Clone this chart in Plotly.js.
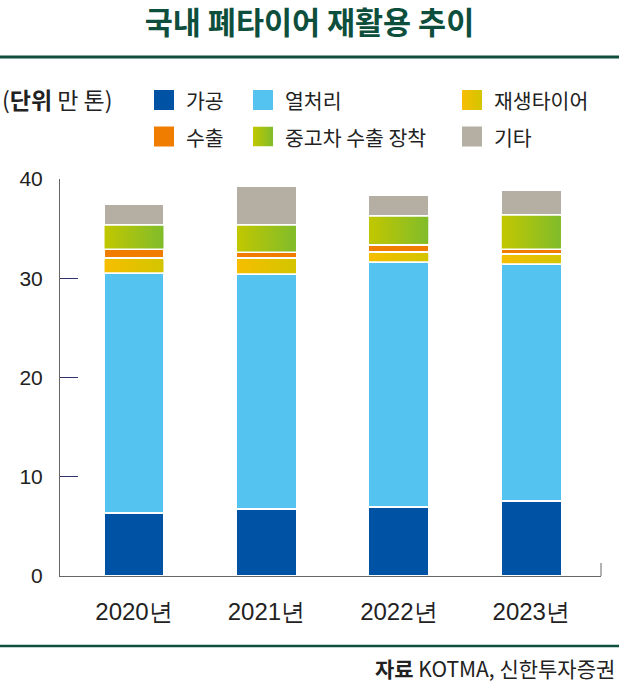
<!DOCTYPE html>
<html><head><meta charset="utf-8">
<script src="https://cdn.plot.ly/plotly-3.0.1.min.js"></script>
<style>html,body{margin:0;padding:0;background:#fff;}#chart{width:619px;height:682px;}</style>
</head><body><div id="chart"></div>
<script>
const years = ['2020년','2021년','2022년','2023년'];
const processing = [6.3, 6.8, 7.0, 7.6];      // 가공
const thermal = [24.2, 23.6, 24.6, 23.8];      // 열처리
const retread = [1.5, 1.6, 1.0, 1.0];          // 재생타이어
const exportT = [0.9, 0.6, 0.8, 0.5];          // 수출
const usedCar = [2.5, 2.8, 2.9, 3.5];          // 중고차 수출 장착
const others = [2.1, 3.9, 2.1, 2.5];           // 기타
const seriesNames = ['가공','열처리','재생타이어','수출','중고차 수출 장착','기타'];
const seriesData = [processing, thermal, retread, exportT, usedCar, others];
const colors = ['#0052a4','#55c3f0','#e6c200','#f07c00','#a6c31a','#b5aea2'];
const gradients = {2:['#f6be00','#d3c500'], 4:['#c2c700','#80bc2b']};

const W=619, H=682, L=60, R=601, T=179, B=576;
const px = x => (x-L)/(R-L);
const py = y => (B-y)/(B-T);
const FONT = '"Noto Sans CJK KR", "Noto Sans", sans-serif';
const xIdx = years.map((_,i)=>i);
const BW = 0.46;
const XR = [-0.559, 3.527], YR = [0, 40];
const dxPix = (XR[1]-XR[0])/(R-L), dyPix = (YR[1]-YR[0])/(B-T);

const traces = seriesData.map((d,i)=>({
  type:'bar', x:xIdx, y:d, name:seriesNames[i], width:BW,
  marker:{color:colors[i], line:{color:'#ffffff', width:2}},
  hoverinfo:'y+name', showlegend:false
}));

// gradient overlays for the two gradient-filled series, computed from the stacked data
Object.keys(gradients).forEach(k=>{
  const si = +k;
  xIdx.forEach(j=>{
    let base = 0;
    for (let s=0; s<si; s++) base += seriesData[s][j];
    const top = base + seriesData[si][j];
    const x0 = j - BW/2 + dxPix, x1 = j + BW/2 - dxPix;
    const y0 = base + dyPix, y1 = top - dyPix;
    traces.push({type:'scatter', mode:'lines', x:[x0,x1,x1,x0,x0], y:[y0,y0,y1,y1,y0],
      fill:'toself', line:{width:0, color:'rgba(0,0,0,0)'},
      fillgradient:{type:'horizontal', colorscale:[[0,gradients[k][0]],[1,gradients[k][1]]]},
      hoverinfo:'skip', showlegend:false});
  });
});

const shapes = [
  {type:'line', xref:'paper', yref:'paper', x0:px(0), x1:px(W), y0:py(57), y1:py(57), line:{color:'#0d4f3c', width:3}},
  {type:'line', xref:'paper', yref:'paper', x0:px(0), x1:px(W), y0:py(646), y1:py(646), line:{color:'#0d4f3c', width:2.5}},
  {type:'line', xref:'paper', yref:'paper', x0:1, x1:1, y0:0, y1:py(563), line:{color:'#666', width:1}}
];
const annotations = [];
const images = [];
const legendPos = [[154,100],[253,100],[462,100],[154,136.5],[253,136.5],[462,136.5]];
seriesNames.forEach((n,i)=>{
  const [x,y]=legendPos[i];
  if (gradients[i]) {
    const svg = `<svg xmlns="http://www.w3.org/2000/svg" width="20" height="20"><defs><linearGradient id="g" x1="0" x2="1" y1="0" y2="0"><stop offset="0" stop-color="${gradients[i][0]}"/><stop offset="1" stop-color="${gradients[i][1]}"/></linearGradient></defs><rect width="20" height="20" fill="url(#g)"/></svg>`;
    images.push({source:'data:image/svg+xml;charset=utf-8,'+encodeURIComponent(svg), xref:'paper', yref:'paper', x:px(x), y:py(y-10), sizex:20/(R-L), sizey:20/(B-T), xanchor:'left', yanchor:'top', sizing:'stretch', layer:'above'});
  } else {
    shapes.push({type:'rect', xref:'paper', yref:'paper', x0:px(x), x1:px(x+20), y0:py(y-10), y1:py(y+10), fillcolor:colors[i], line:{width:0}});
  }
  annotations.push({xref:'paper', yref:'paper', x:px(x+30), y:py(y), xanchor:'left', yanchor:'middle', text:n, showarrow:false, font:{family:FONT, size:20.5, color:'#222'}});
});
annotations.push({xref:'paper', yref:'paper', x:px(0), y:py(99), xanchor:'left', yanchor:'middle', text:'(<b>단위</b> 만 톤)', showarrow:false, font:{family:FONT, size:23, color:'#222'}});
annotations.push({xref:'paper', yref:'paper', x:px(617), y:py(668), xanchor:'right', yanchor:'middle', text:'<b>자료</b> KOTMA, 신한투자증권', showarrow:false, font:{family:FONT, size:21, color:'#222'}});

const layout = {
  width:W, height:H, paper_bgcolor:'#fff', plot_bgcolor:'#fff',
  margin:{l:L, r:W-R, t:T, b:H-B, pad:0},
  barmode:'stack', bargap:0,
  title:{text:'<b>국내 폐타이어 재활용 추이</b>', x:0.5, xref:'container', xanchor:'center', y:1-23.5/H, yref:'container', yanchor:'middle', font:{family:FONT, size:30.5, color:'#0d4f3c'}},
  xaxis:{range:XR, tickvals:xIdx, ticktext:years, showgrid:false, zeroline:false, showline:true, linecolor:'#666', linewidth:1, ticks:'', ticklabelstandoff:14, tickfont:{family:'"Liberation Sans", Arial, sans-serif', size:24, color:'#222'}, fixedrange:true},
  yaxis:{range:YR, tickvals:[0,10,20,30,40], showgrid:false, zeroline:false, showline:true, linecolor:'#666', linewidth:1, ticks:'inside', ticklen:18, tickcolor:'#33336b', tickwidth:1, ticklabelstandoff:12, tickfont:{family:'"Liberation Sans", Arial, sans-serif', size:21, color:'#222'}, fixedrange:true},
  shapes:shapes, annotations:annotations, images:images
};
Plotly.newPlot('chart', traces, layout, {displayModeBar:false, staticPlot:true});
</script></body></html>
